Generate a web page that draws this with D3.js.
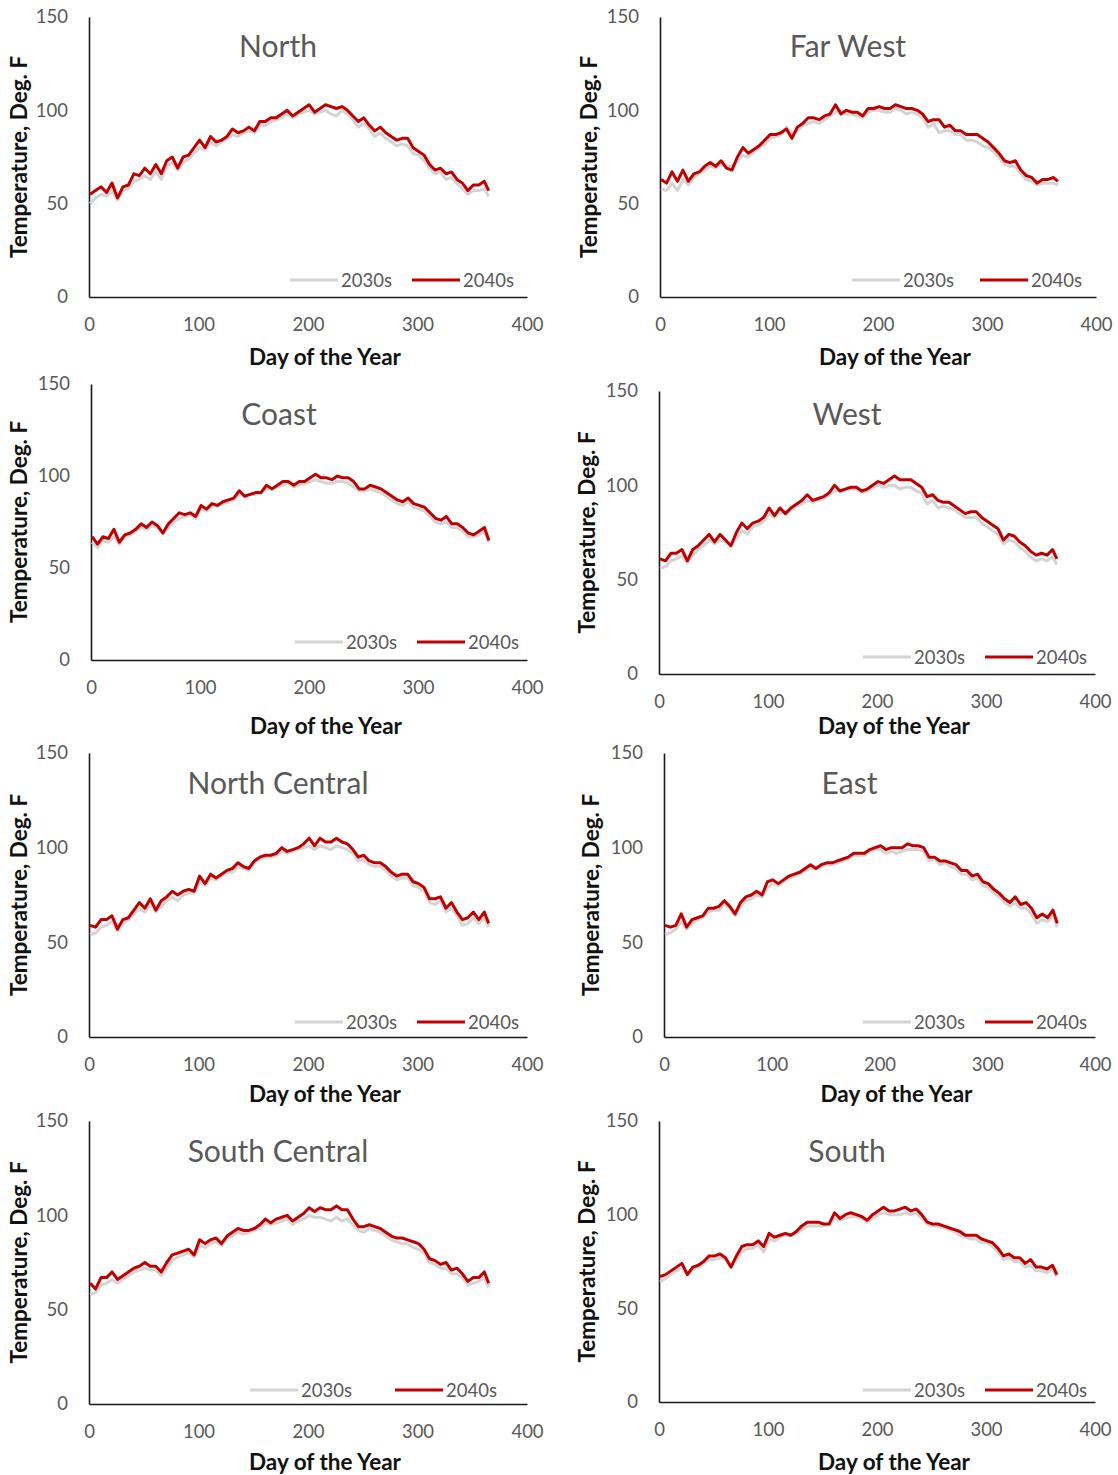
<!DOCTYPE html>
<html>
<head>
<meta charset="utf-8">
<script src="https://cdn.jsdelivr.net/npm/d3@7"></script>
<style>
  body { margin: 0; background: #fff; }
  text { font-family: Lato, "Open Sans", sans-serif; }
</style>
</head>
<body>
<script>
// day of year for each sample
const days = [1,6,11,16,21,26,31,36,41,46, 51,56,61,66,71,76,81,86,91,96,
  101,106,111,116,121,126,131,136,141,146, 151,156,161,166,171,176,181,186,191,196,
  201,206,211,216,221,226,231,236,241,246, 251,256,261,266,271,276,281,286,291,296,
  301,306,311,316,321,326,331,336,341,346, 351,356,361,365];

const regions = ["North", "Far West", "Coast", "West", "North Central", "East", "South Central", "South"];
const legendLabels = ["2030s", "2040s"];
const yTicks = [0, 50, 100, 150];
const xTicks = [0, 100, 200, 300, 400];

const north2030 = [50,53,55,54,57,52,57,58,62,63, 65,63,67,63,70,72,68,72,74,77,
  80,79,83,81,83,85,87,86,88,89, 88,92,92,94,95,96,98,96,98,99,
  100,98,99,100,98,97,100,98,95,91, 93,90,86,88,85,83,81,82,81,77,
  76,73,69,66,67,63,64,61,58,55, 57,57,58,54];
const north2040 = [55,57,59,56,61,53,59,60,66,65, 69,66,71,66,73,75,69,75,76,80,
  84,80,86,83,84,86,90,88,89,91, 89,94,94,96,96,98,100,97,99,101,
  103,99,101,103,102,101,102,100,97,94, 96,92,89,91,88,86,84,85,85,80,
  78,76,71,68,69,66,67,63,61,57, 60,60,62,57];

const farWest2030 = [58,57,61,57,63,60,64,66,68,70, 69,71,70,70,73,76,75,78,80,82,
  85,86,87,91,88,89,92,93,94,93, 95,97,99,100,98,98,97,96,99,100,
  100,99,99,101,100,98,99,98,96,91, 93,88,89,89,87,87,84,84,83,81,
  80,78,75,71,70,70,66,63,62,60, 61,61,61,60];
const farWest2040 = [63,61,67,62,68,62,66,67,70,72, 70,73,69,68,75,80,77,79,81,84,
  87,87,88,90,85,91,93,96,96,95, 97,98,103,98,100,99,99,97,101,101,
  102,101,101,103,102,101,101,100,98,94, 95,95,91,92,89,89,87,87,87,85,
  83,80,77,73,72,73,68,65,64,61, 63,63,64,62];

const coast2030 = [64,61,65,64,67,63,67,68,70,72, 71,73,72,69,72,75,77,78,79,77,
  82,81,84,84,85,86,87,90,89,90, 90,91,93,93,94,95,96,94,95,96,
  97,98,97,96,96,97,97,96,94,92, 92,93,92,91,89,87,85,84,86,83,
  82,81,78,75,74,75,72,72,70,67, 67,68,70,64];
const coast2040 = [67,63,67,66,71,64,68,69,71,74, 72,75,73,69,74,77,80,79,80,78,
  84,82,85,84,86,87,88,92,89,90, 91,91,95,93,95,97,97,95,97,97,
  99,101,99,99,98,100,99,99,97,93, 93,95,94,93,91,89,87,86,88,85,
  84,83,80,77,76,78,74,74,72,69, 68,70,72,65];

const west2030 = [56,57,60,61,63,59,63,66,68,71, 69,71,70,68,72,76,74,78,79,81,
  85,83,86,85,87,89,90,92,91,92, 93,95,97,97,98,98,98,96,97,99,
  100,99,100,100,98,99,99,97,96,90, 92,88,89,88,87,85,83,83,83,80,
  78,76,74,69,71,70,67,65,62,60, 61,60,62,58];
const west2040 = [61,60,64,64,66,60,66,68,71,74, 70,74,71,68,75,80,77,80,81,83,
  88,84,88,85,88,90,92,95,92,93, 94,96,100,97,98,99,99,97,98,100,
  102,101,103,105,103,103,103,101,99,94, 95,92,91,91,89,87,85,86,86,83,
  81,79,77,71,74,73,70,68,65,63, 64,63,66,61];

const northCentral2030 = [54,55,58,59,61,56,60,62,65,68, 66,70,66,69,72,74,72,75,76,76,
  82,80,84,83,85,87,87,90,89,88, 92,94,95,95,96,98,97,98,99,100,
  101,99,101,100,99,101,100,99,97,93, 94,91,90,90,88,85,83,84,84,80,
  79,77,71,70,72,66,68,64,59,60, 63,60,63,58];
const northCentral2040 = [59,58,62,62,64,57,62,63,67,71, 68,73,67,72,74,77,75,77,78,77,
  85,81,86,84,86,88,89,92,90,89, 93,95,96,96,97,100,98,99,100,102,
  105,101,105,103,103,105,103,102,99,95, 96,93,92,92,90,87,85,86,86,82,
  81,79,73,73,74,68,71,66,62,63, 66,62,66,60];

const east2030 = [54,55,57,61,57,60,62,63,66,67, 67,70,68,64,69,72,73,75,74,79,
  81,80,82,84,85,86,88,89,89,90, 91,91,92,93,94,96,96,96,98,99,
  99,97,98,97,98,99,99,99,98,93, 94,91,92,90,89,86,86,83,84,80,
  79,76,74,71,69,71,68,68,65,60, 62,61,64,58];
const east2040 = [59,58,59,65,58,62,63,64,68,68, 69,72,69,65,71,74,75,77,75,82,
  83,81,83,85,86,87,89,91,89,91, 92,92,93,94,95,97,97,97,99,100,
  101,99,100,100,100,102,101,101,100,95, 95,93,93,92,91,88,88,85,86,82,
  81,78,76,73,71,74,70,71,68,63, 65,63,67,60];

const southCentral2030 = [58,59,63,64,66,64,66,68,70,71, 72,71,71,68,72,76,78,79,80,78,
  84,83,85,86,84,88,89,91,90,91, 92,93,96,95,96,97,98,95,97,98,
  100,99,99,98,97,99,97,98,95,92, 91,93,92,91,89,87,86,85,85,83,
  82,80,75,74,72,72,69,69,67,63, 64,65,67,62];
const southCentral2040 = [64,61,67,67,70,66,68,70,72,73, 75,73,73,70,75,79,80,81,82,79,
  87,85,87,88,85,89,91,93,92,92, 93,95,98,96,98,99,100,97,99,101,
  104,102,104,103,103,105,103,103,98,94, 94,95,94,93,91,89,88,88,87,86,
  85,82,77,76,74,75,71,72,69,65, 67,67,70,64];

const south2030 = [64,66,68,70,72,68,71,72,74,76, 76,77,76,72,76,80,82,82,84,80,
  87,86,88,89,89,90,92,94,94,94, 94,95,98,97,98,99,99,98,96,98,
  100,101,100,100,100,101,100,101,98,95, 94,94,93,92,91,89,88,87,87,85,
  85,83,80,76,77,75,75,72,73,70, 70,69,71,67];
const south2040 = [67,68,70,72,74,68,72,73,75,78, 78,79,77,72,78,83,84,84,86,83,
  90,88,89,90,89,91,94,96,96,96, 95,95,101,98,100,101,100,99,97,100,
  102,104,102,102,103,104,102,103,100,96, 95,95,94,93,92,91,89,89,89,87,
  86,85,82,78,79,77,77,74,76,72, 72,71,73,68];

const seriesByRegion = [
  [north2030, north2040], [farWest2030, farWest2040],
  [coast2030, coast2040], [west2030, west2040],
  [northCentral2030, northCentral2040], [east2030, east2040],
  [southCentral2030, southCentral2040], [south2030, south2040]
];

const colors = ["#d4d4d4", "#c00000"];

// panel placement: plot box, title centre, legend line starts, label positions
const layout = [
  {l: 89,  r: 527,  t: 17,   b: 297,  ty: 45,   lg: [290, 412], ly: 280,  yl: 18,  xl: 356},
  {l: 660, r: 1096, t: 17,   b: 297,  ty: 45,   lg: [852, 980], ly: 280,  yl: 588, xl: 356},
  {l: 91,  r: 527,  t: 384,  b: 660,  ty: 413,  lg: [295, 417], ly: 642,  yl: 18,  xl: 725},
  {l: 659, r: 1095, t: 391,  b: 674,  ty: 413,  lg: [863, 985], ly: 657,  yl: 586, xl: 725},
  {l: 89,  r: 527,  t: 753,  b: 1037, ty: 782,  lg: [295, 417], ly: 1022, yl: 18,  xl: 1093},
  {l: 664, r: 1095, t: 753,  b: 1037, ty: 782,  lg: [863, 985], ly: 1022, yl: 590, xl: 1093},
  {l: 89,  r: 527,  t: 1121, b: 1404, ty: 1150, lg: [250, 395], ly: 1390, yl: 18,  xl: 1461},
  {l: 659, r: 1095, t: 1121, b: 1402, ty: 1150, lg: [863, 985], ly: 1390, yl: 586, xl: 1461}
];

const svg = d3.select("body").append("svg")
  .attr("width", 1118)
  .attr("height", 1475);

regions.forEach((name, i) => {
  const p = layout[i];
  const g = svg.append("g");
  const x = d3.scaleLinear().domain([0, 400]).range([p.l, p.r]);
  const y = d3.scaleLinear().domain([0, 150]).range([p.b, p.t]);

  const xAxis = g.append("g")
    .attr("transform", `translate(0,${p.b})`)
    .call(d3.axisBottom(x).tickValues(xTicks).tickSize(0).tickPadding(21));
  const yAxis = g.append("g")
    .attr("transform", `translate(${p.l},0)`)
    .call(d3.axisLeft(y).tickValues(yTicks).tickSize(0).tickPadding(21));

  [xAxis, yAxis].forEach(a => {
    a.select(".domain").attr("stroke", "#1a1a1a").attr("stroke-width", 1.6);
    a.selectAll("text")
      .attr("fill", "#595959")
      .attr("font-size", 18.5)
      .attr("font-family", "Lato, sans-serif");
  });

  const line = d3.line()
    .x((d, j) => x(days[j]))
    .y(d => y(d));

  seriesByRegion[i].forEach((vals, k) => {
    g.append("path")
      .datum(vals)
      .attr("fill", "none")
      .attr("stroke", colors[k])
      .attr("stroke-width", 3)
      .attr("stroke-linejoin", "round")
      .attr("d", line);
  });

  const mid = (p.l + p.r) / 2;

  g.append("text")
    .attr("x", mid - 30)
    .attr("y", p.ty)
    .attr("text-anchor", "middle")
    .attr("dominant-baseline", "central")
    .attr("fill", "#595959")
    .attr("font-size", 30)
    .text(name);

  // legend
  legendLabels.forEach((lab, k) => {
    const lx = p.lg[k];
    g.append("line")
      .attr("x1", lx).attr("x2", lx + 48)
      .attr("y1", p.ly).attr("y2", p.ly)
      .attr("stroke", colors[k])
      .attr("stroke-width", 3);
    g.append("text")
      .attr("x", lx + 51)
      .attr("y", p.ly)
      .attr("dominant-baseline", "central")
      .attr("fill", "#595959")
      .attr("font-size", 18.5)
      .text(lab);
  });

  g.append("text")
    .attr("transform", `translate(${p.yl},${(p.t + p.b) / 2}) rotate(-90)`)
    .attr("text-anchor", "middle")
    .attr("dominant-baseline", "central")
    .attr("font-weight", "bold")
    .attr("font-size", 22.5)
    .attr("fill", "#111")
    .text("Temperature, Deg. F");

  g.append("text")
    .attr("x", mid + 17)
    .attr("y", p.xl)
    .attr("text-anchor", "middle")
    .attr("dominant-baseline", "central")
    .attr("font-weight", "bold")
    .attr("font-size", 22.5)
    .attr("fill", "#111")
    .text("Day of the Year");
});
</script>
</body>
</html>
